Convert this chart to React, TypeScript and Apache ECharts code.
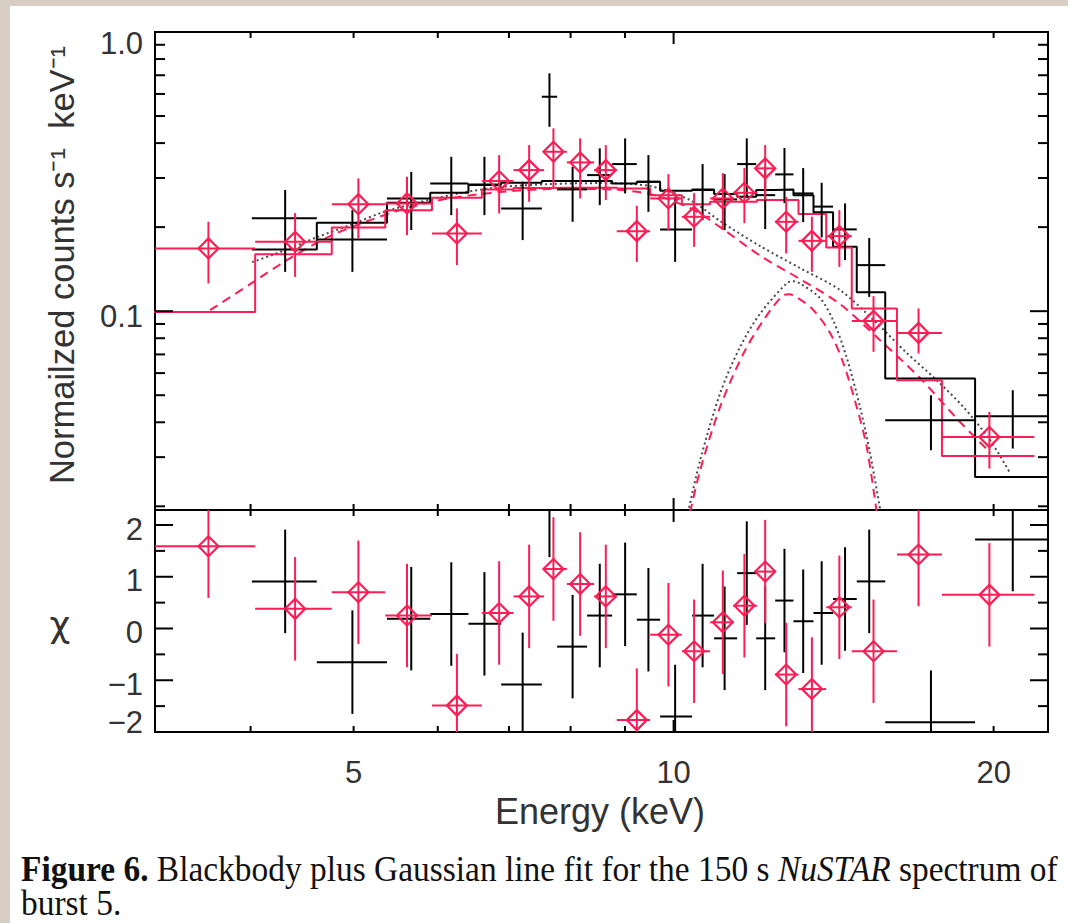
import React, { useEffect, useRef } from 'react';
import * as echarts from 'echarts';

// ---------- axis ranges ----------
const X_MIN = 3.252;
const X_MAX = 22.5;
const FLUX_MIN = 0.0194;
const FLUX_MAX = 1.0;
const CHI_MIN = -2;
const CHI_MAX = 2.29;

// ---------- ticks & labels ----------
const X_TICKS = [4, 5, 6, 7, 8, 9, 10, 20];
const X_MAJOR = [10];
const X_LABELS = [5, 10, 20];
const FLUX_TICKS = [0.02, 0.03, 0.04, 0.05, 0.06, 0.07, 0.08, 0.09, 0.1, 0.2, 0.3, 0.4, 0.5, 0.6, 0.7, 0.8, 0.9];
const FLUX_MAJOR = [0.1, 1.0];
const FLUX_LABELS = [0.1, 1.0];
const FLUX_LABEL_TEXT = ['0.1', '1.0'];
const CHI_TICKS = [-1.5, -1, -0.5, 0, 0.5, 1, 1.5, 2];
const CHI_MAJOR = [-2, -1, 0, 1, 2];
const CHI_LABELS = [-2, -1, 0, 1, 2];
const CHI_LABEL_TEXT = ['\u22122', '\u22121', '0', '1', '2'];

// ---------- black data set ----------
const blackEdges = [4.011, 4.617, 5.375, 5.903, 6.412, 6.883, 7.517, 7.770, 8.291, 8.753, 9.234, 9.712, 10.409, 10.917, 11.475, 11.959, 12.461, 12.964, 13.539, 14.125, 14.869, 15.815, 19.213, 23.0];
const blackE = [4.311, 4.987, 5.665, 6.178, 6.638, 7.211, 7.642, 8.035, 8.522, 9.003, 9.469, 10.033, 10.648, 11.168, 11.717, 12.194, 12.714, 13.240, 13.781, 14.497, 15.276, 17.461, 20.847];
const blackFlux = [0.2150, 0.1807, 0.2534, 0.2869, 0.2829, 0.2334, 0.5863, 0.2730, 0.3072, 0.3364, 0.2907, 0.1963, 0.2716, 0.2514, 0.3364, 0.2604, 0.3090, 0.2641, 0.2369, 0.1963, 0.1462, 0.04068, 0.04204];
const blackFluxLo = [0.1383, 0.1383, 0.1952, 0.2208, 0.2208, 0.1797, 0.4576, 0.2090, 0.2399, 0.2641, 0.2269, 0.1502, 0.2119, 0.1952, 0.2568, 0.1968, 0.2438, 0.2085, 0.1837, 0.1524, 0.1125, 0.03176, 0.03221];
const blackFluxHi = [0.2716, 0.2301, 0.3156, 0.3573, 0.3573, 0.2907, 0.7111, 0.3290, 0.3831, 0.4159, 0.3623, 0.2568, 0.3364, 0.3097, 0.4159, 0.3282, 0.3840, 0.3255, 0.2883, 0.2432, 0.1827, 0.05000, 0.05211];
const blackModel = [0.1664, 0.2073, 0.2444, 0.2655, 0.2845, 0.2883, 0.2924, 0.2924, 0.2924, 0.2869, 0.2907, 0.2699, 0.2730, 0.2626, 0.2568, 0.2716, 0.2730, 0.2604, 0.2263, 0.1700, 0.1170, 0.05737, 0.02547];
const blackChi = [0.91, -0.65, 0.19, 0.28, 0.09, -1.08, 2.38, -0.35, 0.25, 0.66, 0.17, -1.70, 0.25, -0.19, 1.07, -0.19, 0.54, 0.14, 0.30, 0.57, 0.91, -1.81, 1.72];

// ---------- red data set ----------
const redEdges = [3.0, 4.040, 4.769, 5.355, 5.925, 6.601, 7.069, 7.554, 7.935, 8.418, 8.842, 9.504, 10.180, 10.823, 11.376, 11.977, 12.461, 13.106, 13.917, 14.709, 16.221, 17.882, 21.845];
const redE = [3.651, 4.405, 5.052, 5.613, 6.254, 6.853, 7.313, 7.708, 8.167, 8.634, 9.234, 9.888, 10.454, 11.125, 11.657, 12.194, 12.761, 13.492, 14.319, 15.419, 16.998, 19.818];
const redFlux = [0.1678, 0.1772, 0.2417, 0.2432, 0.1899, 0.2924, 0.3201, 0.3724, 0.3411, 0.3201, 0.1935, 0.2534, 0.2178, 0.2534, 0.2655, 0.3247, 0.2090, 0.1786, 0.1857, 0.0923, 0.0836, 0.0354];
const redFluxLo = [0.1257, 0.1327, 0.1822, 0.1872, 0.1462, 0.2239, 0.2465, 0.2752, 0.2534, 0.2500, 0.1502, 0.1952, 0.1700, 0.1952, 0.2067, 0.2500, 0.1609, 0.1383, 0.1441, 0.0715, 0.0705, 0.0273];
const redFluxHi = [0.2090, 0.2245, 0.2989, 0.3029, 0.2334, 0.3623, 0.3935, 0.4517, 0.4159, 0.3935, 0.2385, 0.3097, 0.2648, 0.3123, 0.3255, 0.3935, 0.2568, 0.2178, 0.2301, 0.1132, 0.1023, 0.0436];
const redModel = [0.0994, 0.1600, 0.1995, 0.2301, 0.2547, 0.2730, 0.2760, 0.2766, 0.2766, 0.2766, 0.2748, 0.2604, 0.2417, 0.2465, 0.2465, 0.2500, 0.2500, 0.2227, 0.1692, 0.1023, 0.0566, 0.0303];
const redChi = [1.59, 0.38, 0.70, 0.25, -1.49, 0.30, 0.62, 1.15, 0.86, 0.62, -1.77, -0.12, -0.44, 0.12, 0.44, 1.10, -0.89, -1.17, 0.41, -0.44, 1.43, 0.65];
const CHI_ERR = 1;

// ---------- model components ----------
const bbBlackE = [4.013, 4.311, 4.620, 4.962, 5.332, 5.776, 6.300, 6.868, 7.654, 8.528, 9.504, 10.364, 11.060, 12.063, 13.154, 14.345, 15.527, 16.577, 17.559, 18.739, 19.848, 20.726];
const bbBlackV = [0.1498, 0.1654, 0.1842, 0.2034, 0.2263, 0.2459, 0.2648, 0.2782, 0.2852, 0.2876, 0.2805, 0.2500, 0.2102, 0.1710, 0.1426, 0.1189, 0.0906, 0.0707, 0.0580, 0.0453, 0.0345, 0.0263];
const gaBlackE = [10.319, 10.591, 11.060, 11.550, 12.063, 12.780, 12.960, 13.154, 13.737, 14.138, 14.554, 14.976, 15.304, 15.660];
const gaBlackV = [0.0190, 0.0292, 0.0508, 0.0745, 0.0981, 0.1260, 0.1280, 0.1256, 0.1113, 0.0921, 0.0679, 0.0453, 0.0310, 0.0190];
const bbRedE = [3.664, 3.996, 4.358, 4.752, 5.182, 5.652, 6.165, 6.868, 7.654, 8.528, 9.504, 10.364, 11.060, 12.063, 13.154, 14.345, 15.639, 17.062, 18.606, 19.848];
const bbRedV = [0.1008, 0.1250, 0.1549, 0.1857, 0.2119, 0.2360, 0.2541, 0.2670, 0.2737, 0.2737, 0.2626, 0.2339, 0.2000, 0.1580, 0.1302, 0.1059, 0.0787, 0.0575, 0.0400, 0.0312];
const gaRedE = [10.364, 10.591, 11.060, 11.633, 12.149, 12.687, 12.850, 13.061, 13.539, 14.038, 14.447, 14.869, 15.195, 15.527];
const gaRedV = [0.0190, 0.0269, 0.0454, 0.0705, 0.0928, 0.1141, 0.1150, 0.1122, 0.1008, 0.0834, 0.0650, 0.0453, 0.0326, 0.0190];

// ---------- styles ----------
const RED = '#fb1d55';
const BLACK = '#000000';
const DOT = '#4a4a4a';
const LABEL_FONT = '31px "Liberation Sans", Arial, sans-serif';
const TEXT_COLOR = '#333333';

const seg = (x1: number, y1: number, x2: number, y2: number, color = BLACK) => ({
  type: 'line',
  shape: { x1, y1, x2, y2 },
  style: { stroke: color, lineWidth: 2 },
});

const label = (x: number, y: number, text: string, align: string) => ({
  type: 'text',
  x,
  y,
  style: {
    text,
    font: LABEL_FONT,
    fill: TEXT_COLOR,
    align,
    textAlign: align,
    verticalAlign: 'middle',
    textVerticalAlign: 'middle',
  },
});

const clamp = (v: number, lo: number, hi: number) => Math.max(lo, Math.min(hi, v));

const makeErr = (color: string, diamond: boolean) => (params: any, api: any) => {
  const e = api.value(0);
  const v = api.value(1);
  const lo = api.value(2);
  const hi = api.value(3);
  const vl = api.value(4);
  const vh = api.value(5);
  const c = api.coord([e, v]);
  const a = api.coord([lo, v]);
  const b = api.coord([hi, v]);
  const d1 = api.coord([e, vl]);
  const d2 = api.coord([e, vh]);
  const st = { stroke: color, lineWidth: 2, fill: 'none' };
  const children: any[] = [
    { type: 'line', shape: { x1: a[0], y1: c[1], x2: b[0], y2: c[1] }, style: st },
    { type: 'line', shape: { x1: c[0], y1: d1[1], x2: c[0], y2: d2[1] }, style: st },
  ];
  if (diamond) {
    const r = 10;
    children.push({
      type: 'polygon',
      shape: { points: [[c[0] - r, c[1]], [c[0], c[1] - r], [c[0] + r, c[1]], [c[0], c[1] + r]] },
      style: { stroke: color, lineWidth: 2.2, fill: 'none' },
    });
  }
  return { type: 'group', children };
};

const stepData = (edges: number[], model: number[]) =>
  edges.map((e, i) => [e, model[Math.min(i, model.length - 1)]]);

const curve = (es: number[], vs: number[]) => es.map((e, i) => [e, vs[i]]);

const centeredText = (x: number, y: number, text: string, font: string, extra: any = {}) => ({
  type: 'text',
  z: 10,
  x,
  y,
  ...extra,
  style: {
    text,
    font,
    fill: TEXT_COLOR,
    align: 'center',
    textAlign: 'center',
    verticalAlign: 'middle',
    textVerticalAlign: 'middle',
  },
});

const buildOption = () => {
  const hiddenAxis = {
    axisLine: { show: false },
    axisTick: { show: false },
    axisLabel: { show: false },
    splitLine: { show: false },
  };

  const topTicks = {
    type: 'custom',
    xAxisIndex: 0,
    yAxisIndex: 0,
    silent: true,
    clip: false,
    z: 10,
    data: [[10, 0.1]],
    renderItem: (params: any, api: any) => {
      const cs = params.coordSys;
      const top = cs.y;
      const bot = cs.y + cs.height;
      const left = cs.x;
      const right = cs.x + cs.width;
      const ch: any[] = [];
      X_TICKS.forEach((t) => {
        const px = api.coord([t, 0.1])[0];
        const len = X_MAJOR.includes(t) ? 12 : 6;
        ch.push(seg(px, top, px, top + len), seg(px, bot, px, bot - len));
      });
      FLUX_TICKS.forEach((t) => {
        const py = api.coord([10, t])[1];
        const len = FLUX_MAJOR.includes(t) ? 18 : 10;
        ch.push(seg(left, py, left + len, py), seg(right, py, right - len, py));
      });
      FLUX_LABELS.forEach((t, i) => {
        const py = api.coord([10, t])[1];
        ch.push(label(left - 12, clamp(py + 5, top + 11, bot - 10), FLUX_LABEL_TEXT[i], 'right'));
      });
      return { type: 'group', children: ch };
    },
  };

  const chiTicks = {
    type: 'custom',
    xAxisIndex: 1,
    yAxisIndex: 1,
    silent: true,
    clip: false,
    z: 10,
    data: [[10, 0]],
    renderItem: (params: any, api: any) => {
      const cs = params.coordSys;
      const top = cs.y;
      const bot = cs.y + cs.height;
      const left = cs.x;
      const right = cs.x + cs.width;
      const ch: any[] = [];
      X_TICKS.forEach((t) => {
        const px = api.coord([t, 0])[0];
        const len = X_MAJOR.includes(t) ? 12 : 6;
        ch.push(seg(px, top, px, top + len), seg(px, bot, px, bot - len));
      });
      CHI_TICKS.forEach((t) => {
        const py = api.coord([10, t])[1];
        const len = CHI_MAJOR.includes(t) ? 18 : 10;
        ch.push(seg(left, py, left + len, py), seg(right, py, right - len, py));
      });
      CHI_LABELS.forEach((t, i) => {
        const py = api.coord([10, t])[1];
        ch.push(label(left - 12, clamp(py + 4, top + 11, bot - 10), CHI_LABEL_TEXT[i], 'right'));
      });
      X_LABELS.forEach((t) => {
        const px = api.coord([t, 0])[0];
        ch.push(label(px, bot + 40, String(t), 'center'));
      });
      return { type: 'group', children: ch };
    },
  };

  const serif = '"Liberation Serif", "Times New Roman", serif';

  return {
    animation: false,
    backgroundColor: '#d8cec3',
    graphic: [
      { type: 'rect', z: -10, shape: { x: 10, y: 6, width: 1058, height: 917 }, style: { fill: '#ffffff' } },
      centeredText(62, 265, 'Normailzed counts s\u207B\u00B9\u00A0 keV\u207B\u00B9', '34.5px "Liberation Sans", Arial, sans-serif', { rotation: Math.PI / 2 }),
      centeredText(60, 624, '\u03C7', '36px "DejaVu Sans", sans-serif'),
      centeredText(600, 811, 'Energy (keV)', '36px "Liberation Sans", Arial, sans-serif'),
      {
        type: 'text',
        z: 10,
        x: 21,
        y: 869,
        scaleX: 0.955,
        style: {
          text: '{b|Figure 6.}{n| Blackbody plus Gaussian line fit for the 150 s }{i|NuSTAR}{n| spectrum of}',
          font: '35px ' + serif,
          fill: '#111',
          align: 'left',
          textAlign: 'left',
          verticalAlign: 'middle',
          textVerticalAlign: 'middle',
          rich: {
            b: { fontFamily: serif, fontSize: 35, fontWeight: 'bold', fill: '#111' },
            n: { fontFamily: serif, fontSize: 35, fill: '#111' },
            i: { fontFamily: serif, fontSize: 35, fontStyle: 'italic', fill: '#111' },
          },
        },
      },
      {
        type: 'text',
        z: 10,
        x: 21,
        y: 903,
        scaleX: 0.955,
        style: {
          text: 'burst 5.',
          font: '35px ' + serif,
          fill: '#111',
          align: 'left',
          textAlign: 'left',
          verticalAlign: 'middle',
          textVerticalAlign: 'middle',
        },
      },
    ],
    grid: [
      { left: 155, top: 32, width: 893, height: 478, show: true, borderColor: '#000', borderWidth: 2, backgroundColor: 'transparent' },
      { left: 155, top: 510, width: 893, height: 222, show: true, borderColor: '#000', borderWidth: 2, backgroundColor: 'transparent' },
    ],
    xAxis: [
      { gridIndex: 0, type: 'log', logBase: 10, min: X_MIN, max: X_MAX, ...hiddenAxis },
      { gridIndex: 1, type: 'log', logBase: 10, min: X_MIN, max: X_MAX, ...hiddenAxis },
    ],
    yAxis: [
      { gridIndex: 0, type: 'log', logBase: 10, min: FLUX_MIN, max: FLUX_MAX, ...hiddenAxis },
      { gridIndex: 1, type: 'value', min: CHI_MIN, max: CHI_MAX, ...hiddenAxis },
    ],
    series: [
      topTicks,
      chiTicks,
      {
        type: 'line', xAxisIndex: 0, yAxisIndex: 0, z: 3, silent: true, showSymbol: false, symbol: 'none', smooth: 0.3,
        data: curve(bbBlackE, bbBlackV),
        lineStyle: { color: DOT, width: 2, type: [2, 3] },
      },
      {
        type: 'line', xAxisIndex: 0, yAxisIndex: 0, z: 3, silent: true, showSymbol: false, symbol: 'none', smooth: 0.3,
        data: curve(gaBlackE, gaBlackV),
        lineStyle: { color: DOT, width: 2, type: [2, 3] },
      },
      {
        type: 'line', xAxisIndex: 0, yAxisIndex: 0, z: 3, silent: true, showSymbol: false, symbol: 'none', smooth: 0.3,
        data: curve(bbRedE, bbRedV),
        lineStyle: { color: RED, width: 2, type: [9, 6] },
      },
      {
        type: 'line', xAxisIndex: 0, yAxisIndex: 0, z: 3, silent: true, showSymbol: false, symbol: 'none', smooth: 0.3,
        data: curve(gaRedE, gaRedV),
        lineStyle: { color: RED, width: 2, type: [9, 6] },
      },
      {
        type: 'line', xAxisIndex: 0, yAxisIndex: 0, z: 4, silent: true, showSymbol: false, symbol: 'none', step: 'end',
        data: stepData(blackEdges, blackModel),
        lineStyle: { color: BLACK, width: 2 },
      },
      {
        type: 'line', xAxisIndex: 0, yAxisIndex: 0, z: 4, silent: true, showSymbol: false, symbol: 'none', step: 'end',
        data: stepData(redEdges, redModel),
        lineStyle: { color: RED, width: 2 },
      },
      {
        type: 'custom', xAxisIndex: 0, yAxisIndex: 0, z: 5, silent: true, clip: true,
        data: blackE.map((e, i) => [e, blackFlux[i], blackEdges[i], blackEdges[i + 1], blackFluxLo[i], blackFluxHi[i]]),
        renderItem: makeErr(BLACK, false),
      },
      {
        type: 'custom', xAxisIndex: 0, yAxisIndex: 0, z: 6, silent: true, clip: true,
        data: redE.map((e, i) => [e, redFlux[i], redEdges[i], redEdges[i + 1], redFluxLo[i], redFluxHi[i]]),
        renderItem: makeErr(RED, true),
      },
      {
        type: 'custom', xAxisIndex: 1, yAxisIndex: 1, z: 5, silent: true, clip: true,
        data: blackE.map((e, i) => [e, blackChi[i], blackEdges[i], blackEdges[i + 1], blackChi[i] - CHI_ERR, blackChi[i] + CHI_ERR]),
        renderItem: makeErr(BLACK, false),
      },
      {
        type: 'custom', xAxisIndex: 1, yAxisIndex: 1, z: 6, silent: true, clip: true,
        data: redE.map((e, i) => [e, redChi[i], redEdges[i], redEdges[i + 1], redChi[i] - CHI_ERR, redChi[i] + CHI_ERR]),
        renderItem: makeErr(RED, true),
      },
    ],
  };
};

export default function App() {
  const ref = useRef<HTMLDivElement>(null);
  useEffect(() => {
    document.body.style.margin = '0';
    const chart = echarts.init(ref.current as HTMLDivElement, null, { renderer: 'svg' });
    chart.setOption(buildOption() as any);
    return () => chart.dispose();
  }, []);
  return <div ref={ref} style={{ position: 'absolute', left: 0, top: 0, width: 1068, height: 923 }} />;
}
